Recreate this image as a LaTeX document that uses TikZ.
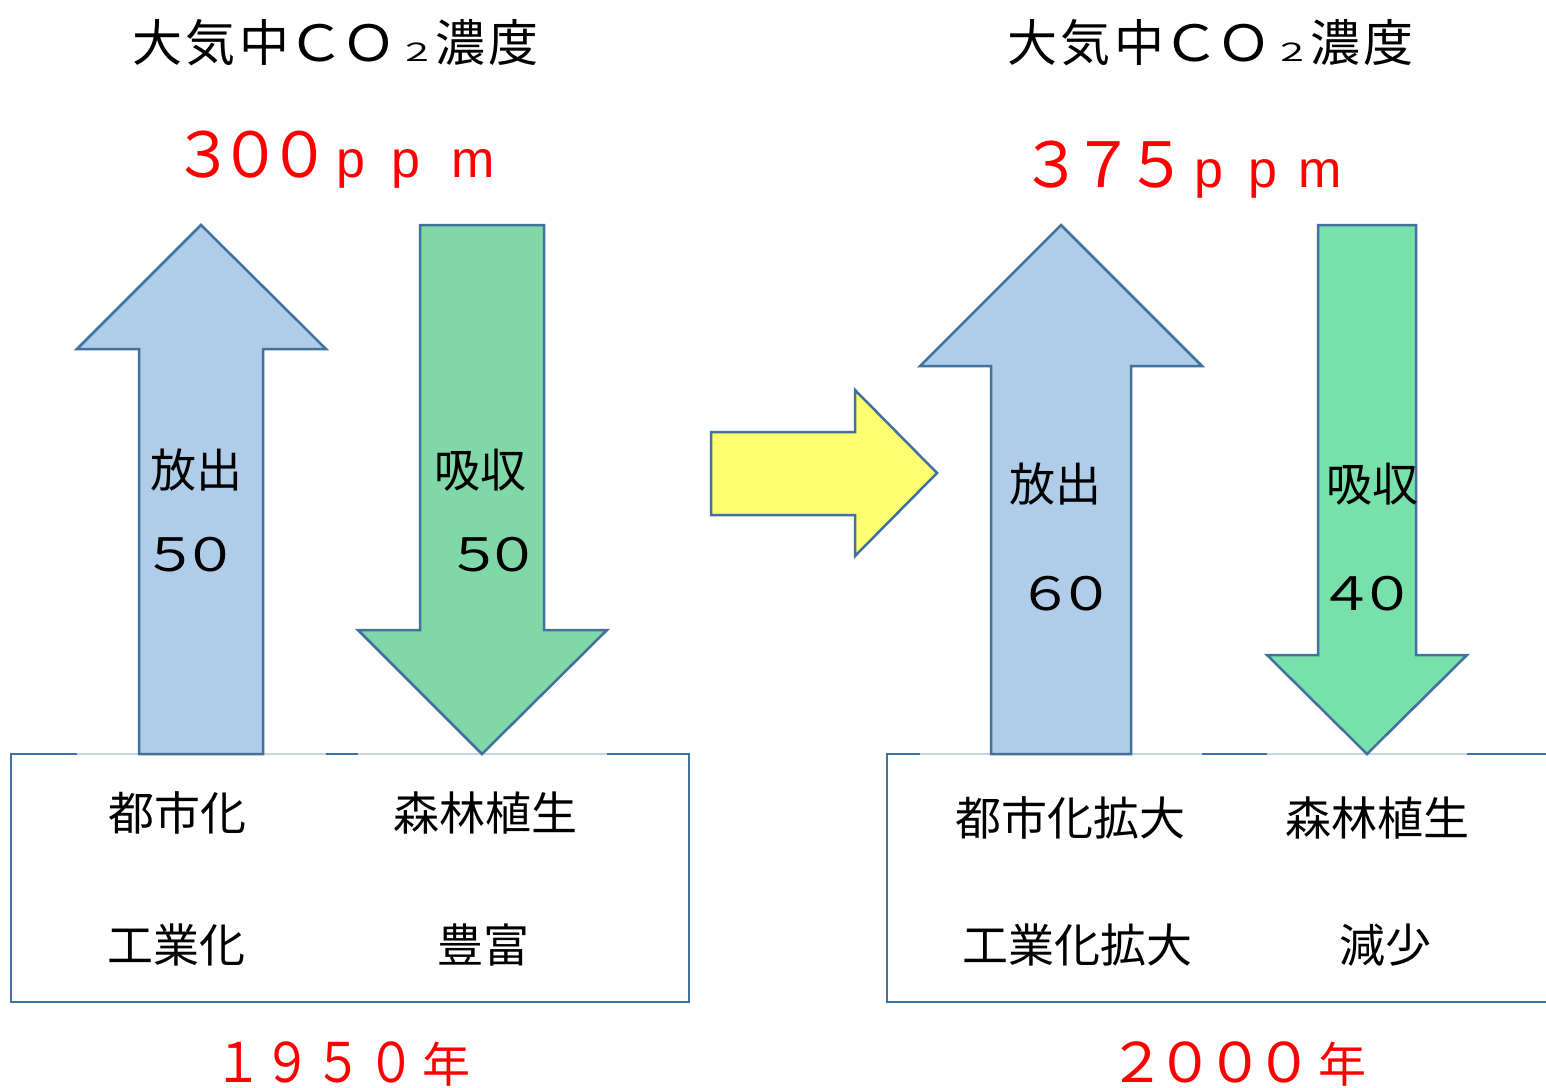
\documentclass[tikz,border=0pt]{standalone}
\usepackage{fontspec}
\newfontfamily\jp{Noto Sans CJK JP}
\newfontfamily\lat{Liberation Sans}
\definecolor{edgeblue}{RGB}{65,113,156}
\definecolor{lightedge}{RGB}{200,212,226}
\definecolor{upblue}{RGB}{175,205,233}
\definecolor{greenL}{RGB}{128,216,168}
\definecolor{greenR}{RGB}{120,224,170}
\definecolor{yel}{RGB}{255,255,112}
\definecolor{redtxt}{RGB}{255,0,0}
% a character centred in a box of given width
\newcommand\cbx[2]{\makebox[#1][c]{#2}}
% scaled full-width glyph: size, xscale, yscale, text
\newcommand\jglyph[4]{{\jp\fontsize{#1}{#1}\selectfont\scalebox{#2}[#3]{#4}}}
% latin letter: size, text
\newcommand\latglyph[2]{{\lat\fontsize{#1}{#1}\selectfont #2}}
\tikzset{
  shapeline/.style={draw=edgeblue, line width=2.5pt, line join=miter},
  boxline/.style={draw=edgeblue, line width=2.5pt},
  jtxt/.style={inner sep=0pt, font=\jp\fontsize{46}{46}\selectfont},
  ttl/.style={inner sep=0pt, anchor=base west, font=\jp\fontsize{50}{50}\selectfont},
  red/.style={inner sep=0pt, anchor=base west, text=redtxt},
  num/.style={inner sep=0pt},
}
\begin{document}
\begin{tikzpicture}[x=1pt,y=-1pt]
\useasboundingbox (0,0) rectangle (1546,1087);
\fill[white] (0,0) rectangle (1546,1087);

% boxes
\draw[boxline] (11,754) rectangle (689,1002);
\draw[boxline] (1548,754) -- (887,754) -- (887,1002) -- (1548,1002);
% lighter parts of the top edges (behind arrow frames)
\foreach \a/\b in {77/139, 263/326, 358/607, 920/991, 1131/1202, 1267/1467}{
  \draw[white, line width=3pt] (\a,754) -- (\b,754);
  \draw[lightedge, line width=1.3pt] (\a,754) -- (\b,754);
}

% arrows
\filldraw[shapeline, fill=upblue] (139,754) -- (139,349) -- (77,349) -- (201,225) -- (326,349) -- (263,349) -- (263,754) -- cycle;
\filldraw[shapeline, fill=greenL] (420,225) -- (544,225) -- (544,630) -- (607,630) -- (482,754) -- (358,630) -- (420,630) -- cycle;
\filldraw[shapeline, fill=yel] (711,432) -- (855,432) -- (855,390) -- (937,473) -- (855,556) -- (855,515) -- (711,515) -- cycle;
\filldraw[shapeline, fill=upblue] (991,754) -- (991,366) -- (920,366) -- (1061,225) -- (1202,366) -- (1131,366) -- (1131,754) -- cycle;
\filldraw[shapeline, fill=greenR] (1318,225) -- (1416,225) -- (1416,655) -- (1467,655) -- (1367,754) -- (1267,655) -- (1318,655) -- cycle;

% titles
\node[ttl] (titleL) at (130,61) {\cbx{54pt}{大}\cbx{53pt}{気}\cbx{55pt}{中}\cbx{48pt}{\scalebox{1.15}[1]{Ｃ}}\cbx{58pt}{\scalebox{1.1}[1]{Ｏ}}\cbx{38pt}{\jglyph{25}{1.5}{1}{２}}\cbx{48pt}{濃}\cbx{58pt}{度}};
\node[ttl] (titleR) at (1005,61) {\cbx{54pt}{大}\cbx{53pt}{気}\cbx{55pt}{中}\cbx{48pt}{\scalebox{1.15}[1]{Ｃ}}\cbx{58pt}{\scalebox{1.1}[1]{Ｏ}}\cbx{38pt}{\jglyph{25}{1.5}{1}{２}}\cbx{48pt}{濃}\cbx{58pt}{度}};

% concentrations
\node[red] (ppmL) at (180,177) {\cbx{46pt}{\jglyph{52}{1.2}{1.2}{３}}\cbx{48pt}{\jglyph{52}{1.2}{1.2}{０}}\cbx{50pt}{\jglyph{52}{1.2}{1.2}{０}}\cbx{54pt}{\latglyph{52}{p}}\cbx{56pt}{\latglyph{52}{p}}\cbx{78pt}{\latglyph{52}{m}}};
\node[red] (ppmR) at (1026,187) {\cbx{50pt}{\jglyph{52}{1.2}{1.2}{３}}\cbx{54pt}{\jglyph{52}{1.2}{1.2}{７}}\cbx{52pt}{\jglyph{52}{1.2}{1.2}{５}}\cbx{54pt}{\latglyph{52}{p}}\cbx{54pt}{\latglyph{52}{p}}\cbx{60pt}{\latglyph{52}{m}}};

% arrow labels
\node[jtxt] (relL) at (196,470) {放出};
\node[num] (relLn) at (191,555) {\cbx{40pt}{\jglyph{46}{1.22}{1}{５}}\cbx{40pt}{\jglyph{46}{1.22}{1}{０}}};
\node[jtxt] (absL) at (480,470) {吸収};
\node[num] (absLn) at (494,555) {\cbx{38pt}{\jglyph{46}{1.22}{1}{５}}\cbx{38pt}{\jglyph{46}{1.22}{1}{０}}};
\node[jtxt] (relR) at (1055,484) {放出};
\node[num] (relRn) at (1066,594) {\cbx{41pt}{\jglyph{46}{1.22}{1}{６}}\cbx{41pt}{\jglyph{46}{1.22}{1}{０}}};
\node[jtxt] (absR) at (1372,484) {吸収};
\node[num] (absRn) at (1367,594) {\cbx{41pt}{\jglyph{46}{1.22}{1}{４}}\cbx{41pt}{\jglyph{46}{1.22}{1}{０}}};

% box texts
\node[jtxt] (bL1) at (177,813) {都市化};
\node[jtxt] (bL2) at (485,813) {森林植生};
\node[jtxt] (bL3) at (176,945) {工業化};
\node[jtxt] (bL4) at (483,945) {豊富};
\node[jtxt] (bR1) at (1070,818) {都市化拡大};
\node[jtxt] (bR2) at (1377,818) {森林植生};
\node[jtxt] (bR3) at (1077,945) {工業化拡大};
\node[jtxt] (bR4) at (1385,945) {減少};

% years
\node[red] (yrL) at (213,1082) {\cbx{50pt}{\jglyph{48}{1.0}{1.14}{１}}\cbx{48pt}{\jglyph{48}{1.0}{1.14}{９}}\cbx{54pt}{\jglyph{48}{1.0}{1.14}{５}}\cbx{52pt}{\jglyph{48}{1.0}{1.14}{０}}\cbx{58pt}{\jglyph{48}{1}{1}{年}}};
\node[red] (yrR) at (1112,1082) {\cbx{50pt}{\jglyph{48}{1.2}{1.14}{２}}\cbx{46pt}{\jglyph{48}{1.2}{1.14}{０}}\cbx{54pt}{\jglyph{48}{1.2}{1.14}{０}}\cbx{44pt}{\jglyph{48}{1.2}{1.14}{０}}\cbx{72pt}{\jglyph{48}{1}{1}{年}}};
\end{tikzpicture}
\end{document}
